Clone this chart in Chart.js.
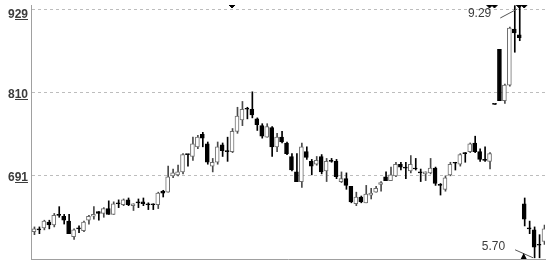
<!DOCTYPE html>
<html>
<head>
<meta charset="utf-8">
<script src="https://cdn.jsdelivr.net/npm/chart.js@4.4.1/dist/chart.umd.min.js"></script>
<style>
  html, body { margin: 0; padding: 0; background: #fff; }
</style>
</head>
<body>
<canvas id="chart" width="550" height="264"></canvas>
<script>
// candles, one entry per session, left to right
const OPEN = [
  610.5, 613.2, 616.0, 624.3, 620.1, 634.0, 632.6, 625.7, 603.6, 616.0,
  611.9, 627.0, 632.6, 639.5, 636.7, 643.6, 635.3, 650.5, 649.1, 656.1,
  647.8, 651.9, 653.3, 649.1, 649.1, 649.1, 668.5, 667.1, 690.5, 691.9,
  696.1, 720.9, 718.2, 732.0, 749.9, 736.1, 704.4, 709.9, 734.7, 725.1,
  725.1, 754.1, 770.6, 785.8, 785.8, 772.0, 762.3, 745.8, 759.6, 732.0,
  745.8, 737.5, 718.2, 696.1, 682.3, 725.1, 711.2, 707.1, 718.2, 697.4,
  711.2, 711.2, 682.3, 686.4, 675.4, 650.5, 660.2, 651.9, 663.0, 667.1,
  678.1, 689.2, 683.7, 690.5, 707.1, 701.6, 697.4, 700.2, 694.7, 693.3,
  694.7, 701.6, 676.8, 671.2, 691.9, 708.5, 707.1, 722.3, 725.1, 737.5,
  725.1, 712.6, 711.2, 792.7, 871.4, 798.2, 820.3, 900.4, 892.1, 650.5,
  614.6, 613.2, 591.2, 596.7
];
const HIGH = [
  617.4, 617.4, 627.0, 627.0, 636.7, 646.4, 635.3, 635.3, 614.6, 618.8,
  625.7, 634.0, 646.4, 639.5, 645.0, 654.7, 653.3, 656.1, 657.4, 658.8,
  650.5, 657.4, 658.8, 651.9, 650.5, 667.1, 669.8, 704.4, 700.2, 705.7,
  722.3, 720.9, 745.8, 748.5, 752.7, 738.9, 715.4, 738.9, 737.5, 745.8,
  758.2, 788.6, 796.9, 788.6, 810.7, 773.4, 765.1, 765.1, 761.0, 751.3,
  754.1, 738.9, 722.3, 722.3, 737.5, 732.0, 714.0, 718.2, 720.9, 715.4,
  715.4, 714.0, 696.1, 694.7, 675.4, 667.1, 661.6, 676.8, 672.6, 675.4,
  682.3, 696.1, 703.0, 709.9, 709.9, 709.9, 719.5, 715.4, 700.2, 696.1,
  715.4, 703.0, 679.5, 690.5, 709.9, 709.9, 722.3, 723.7, 737.5, 747.2,
  729.2, 732.0, 723.7, 792.7, 871.4, 821.7, 903.2, 934.0, 934.0, 658.8,
  625.7, 617.4, 606.3, 620.1
];
const LOW = [
  606.3, 607.7, 613.2, 614.6, 617.4, 631.2, 621.5, 607.7, 599.4, 609.1,
  610.5, 621.5, 628.4, 627.0, 631.2, 635.3, 635.3, 645.0, 647.8, 647.8,
  640.9, 645.0, 647.8, 642.2, 642.2, 643.6, 660.2, 667.1, 687.8, 690.5,
  693.3, 704.4, 712.6, 729.2, 732.0, 707.1, 696.1, 707.1, 718.2, 711.2,
  723.7, 751.3, 762.3, 772.0, 773.4, 755.4, 744.4, 745.8, 718.2, 725.1,
  737.5, 720.9, 697.4, 682.3, 674.0, 714.0, 691.9, 705.7, 693.3, 682.3,
  709.9, 686.4, 680.9, 671.2, 651.9, 647.8, 651.9, 651.9, 657.4, 667.1,
  668.5, 683.7, 683.7, 689.2, 698.8, 686.4, 694.7, 698.8, 682.3, 683.7,
  693.3, 676.8, 663.0, 668.5, 690.5, 698.8, 704.4, 709.9, 723.7, 723.7,
  711.2, 711.2, 700.2, 792.7, 798.2, 794.1, 818.9, 867.3, 883.8, 618.8,
  607.7, 573.2, 573.2, 592.5
];
const CLOSE = [
  614.6, 613.2, 625.7, 620.1, 634.0, 634.0, 627.0, 607.7, 613.2, 614.6,
  624.3, 632.6, 635.3, 636.7, 643.6, 635.3, 650.5, 650.5, 656.1, 649.1,
  650.5, 651.9, 650.5, 649.1, 649.1, 665.7, 665.7, 689.2, 694.7, 696.1,
  720.9, 720.9, 736.1, 745.8, 744.4, 709.9, 709.9, 732.0, 726.4, 725.1,
  754.1, 776.1, 785.8, 785.8, 777.5, 763.7, 747.2, 761.0, 732.0, 745.8,
  738.9, 722.3, 698.8, 682.3, 732.0, 716.8, 704.4, 712.6, 696.1, 711.2,
  711.2, 689.2, 686.4, 676.8, 653.3, 660.2, 653.3, 664.3, 665.7, 672.6,
  680.9, 683.7, 691.9, 707.1, 703.0, 701.6, 707.1, 700.2, 694.7, 696.1,
  701.6, 679.5, 676.8, 687.8, 707.1, 708.5, 720.9, 722.3, 736.1, 725.1,
  714.0, 712.6, 722.3, 792.7, 798.2, 820.3, 901.8, 894.9, 888.0, 628.4,
  614.6, 588.4, 591.2, 614.6
];

const Y_TICKS = [691, 810, 929];
const Y_MIN = 571.5;
const Y_MAX = 934.9;
const SIGNALS = [40, 92, 93, 98, 99];
const HIGH_MARK = { idx: 98, label: '9.29' };
const LOW_MARK = { idx: 101, label: '5.70' };

const UP_EDGE = '#6e6e6e';
const GRID = '#bdbdbd';
const AXIS = '#a0a0a0';
const TEXT = '#3c3c3c';

const isUp = i => CLOSE[i] > OPEN[i];

// value labels on the left, last two digits underlined
const axisLabels = {
  id: 'axisLabels',
  afterDraw(chart) {
    const { ctx, scales: { y } } = chart;
    ctx.save();
    ctx.font = 'bold 12px "Liberation Sans", Arial, sans-serif';
    ctx.fillStyle = TEXT;
    ctx.textAlign = 'right';
    ctx.textBaseline = 'alphabetic';
    Y_TICKS.forEach(v => {
      const text = String(v);
      const base = Math.round(Math.max(y.getPixelForValue(v) + 6, 18));
      ctx.fillText(text, 28, base);
      const full = ctx.measureText(text).width;
      const head = ctx.measureText(text.slice(0, 1)).width;
      ctx.fillRect(Math.round(28 - full + head), base + 1, Math.round(full - head), 1);
    });
    ctx.restore();
  }
};

// max / min callouts
const extremes = {
  id: 'extremes',
  afterDatasetsDraw(chart) {
    const { ctx, scales: { x, y }, chartArea } = chart;
    ctx.save();
    ctx.font = '12px "Liberation Sans", Arial, sans-serif';
    ctx.fillStyle = TEXT;
    ctx.strokeStyle = '#555';
    ctx.lineWidth = 1;
    ctx.textAlign = 'right';

    const hx = x.getPixelForValue(HIGH_MARK.idx) - 2, hy = 9;
    ctx.beginPath();
    ctx.moveTo(hx - 17, hy + 9);
    ctx.lineTo(hx, hy);
    ctx.stroke();
    ctx.fillText(HIGH_MARK.label, hx - 26, hy + 8);

    const lx = x.getPixelForValue(LOW_MARK.idx), ly = y.getPixelForValue(LOW[LOW_MARK.idx]);
    ctx.beginPath();
    ctx.moveTo(lx - 19, ly - 8);
    ctx.lineTo(lx - 1, ly);
    ctx.stroke();
    ctx.fillText(LOW_MARK.label, lx - 29, ly - 8);

    const tx = x.getPixelForValue(LOW_MARK.idx - 2) - 0.5;
    ctx.fillStyle = '#000';
    ctx.beginPath();
    ctx.moveTo(tx, chartArea.bottom - 6);
    ctx.lineTo(tx - 3, chartArea.bottom);
    ctx.lineTo(tx + 3, chartArea.bottom);
    ctx.closePath();
    ctx.fill();
    ctx.restore();
  }
};

new Chart(document.getElementById('chart'), {
  type: 'bar',
  data: {
    datasets: [
      {
        label: 'body',
        data: OPEN.map((o, i) => ({ x: i, y: [o, CLOSE[i]] })),
        backgroundColor: c => isUp(c.dataIndex) ? '#ffffff' : '#000000',
        borderColor: c => isUp(c.dataIndex) ? UP_EDGE : '#000000',
        borderWidth: 1,
        borderSkipped: false,
        barThickness: 4,
        minBarLength: 1,
        grouped: false,
        order: 0
      },
      {
        label: 'wick',
        data: LOW.map((l, i) => ({ x: i + 0.1, y: [l, HIGH[i]] })),
        backgroundColor: c => isUp(c.dataIndex) ? '#4a4a4a' : '#000000',
        borderWidth: 0,
        barThickness: 1,
        grouped: false,
        order: 1
      },
      {
        type: 'scatter',
        label: 'signal',
        data: SIGNALS.map(i => ({ x: i, y: Y_MAX })),
        pointStyle: 'rectRot',
        pointRadius: 3,
        backgroundColor: '#000',
        borderColor: '#000',
        borderWidth: 1,
        order: -1
      }
    ]
  },
  options: {
    responsive: false,
    animation: false,
    devicePixelRatio: 1,
    layout: { padding: 0 },
    plugins: { legend: { display: false }, tooltip: { enabled: false } },
    scales: {
      x: {
        type: 'linear',
        min: -0.6,
        max: 103.2,
        offset: false,
        ticks: { display: false },
        grid: { display: false, drawTicks: false },
        border: { color: AXIS },
        afterFit: s => { s.height = 1; }
      },
      y: {
        min: Y_MIN,
        max: Y_MAX,
        afterBuildTicks: s => { s.ticks = Y_TICKS.map(v => ({ value: v })); },
        ticks: { display: false },
        grid: { color: GRID, drawTicks: false },
        border: { color: AXIS, dash: [3, 3] },
        afterFit: s => { s.width = 31; }
      }
    }
  },
  plugins: [axisLabels, extremes]
});
</script>
</body>
</html>
